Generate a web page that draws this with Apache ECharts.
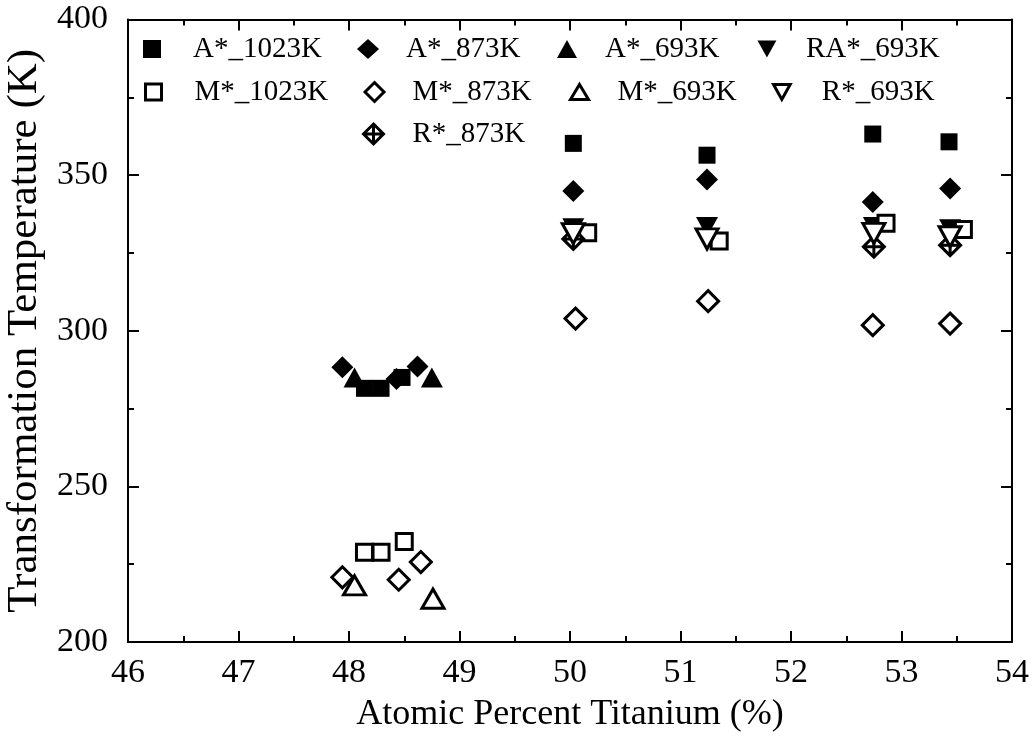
<!DOCTYPE html>
<html>
<head>
<meta charset="utf-8">
<script src="https://cdn.jsdelivr.net/npm/echarts@6/dist/echarts.min.js"></script>
<style>
  html, body { margin: 0; padding: 0; background: #fff; }
  #chart { width: 1032px; height: 748px; }
</style>
</head>
<body>
<div id="chart"></div>
<script>
// Transformation temperatures [at.% Ti, K]
const A_1023K  = [[48.14, 281.5], [48.29, 281.5], [48.48, 285.0], [50.03, 360.2], [51.24, 356.4], [52.74, 363.2], [53.43, 360.7]];
const A_873K   = [[47.94, 288.3], [48.43, 284.5], [48.62, 288.5], [50.03, 344.9], [51.24, 348.6], [52.74, 341.4], [53.44, 345.7]];
const A_693K   = [[48.05, 285.0], [48.75, 285.0]];
const RA_693K  = [[50.03, 332.9], [51.24, 333.3], [52.75, 333.3], [53.44, 332.6]];
const M_1023K  = [[48.14, 228.8], [48.29, 228.8], [48.50, 232.3], [50.16, 331.5], [51.35, 328.8], [52.86, 334.5], [53.56, 332.5]];
const M_873K   = [[47.94, 220.8], [48.45, 220.0], [48.65, 225.7], [50.05, 303.9], [51.25, 309.5], [52.74, 301.8], [53.44, 302.3]];
const M_693K   = [[48.05, 218.2], [48.76, 213.9]];
const R_873K   = [[50.03, 329.5], [52.75, 327.0], [53.44, 327.5]];
const R_693K   = [[50.03, 331.2], [51.24, 329.5], [52.75, 331.3], [53.44, 330.2]];

const xName = 'Atomic Percent Titanium (%)';
const yName = 'Transformation Temperature (K)';

const FONT = '"Liberation Serif", "Times New Roman", serif';
const INK = '#000';

const DOWN_TRI = 'path://M0,0 L20,0 L10,18 Z';
const CROSS_DIAMOND = 'path://M0,-10 L10,0 L0,10 L-10,0 Z M-10,0 L10,0 M0,-10 L0,10';

const filled = { color: INK, borderWidth: 0 };
const open = { color: '#fff', borderColor: INK, borderWidth: 3 };

// legend text box: line height plus bottom padding
const LEG_LINE = 32, LEG_PAD_B = 2;
const LEG_BOX = LEG_LINE + LEG_PAD_B;

// name, data, symbol, size, style, legend icon centre x/y, legend icon size, text start x
const seriesDefs = [
  ['A*_1023K', A_1023K, 'rect',        [17, 17], filled, 152, 49,  [18, 18], 193],
  ['A*_873K',  A_873K,  'diamond',     [22, 22], filled, 368, 49,  [22, 20], 406],
  ['A*_693K',  A_693K,  'triangle',    [22, 20], filled, 567, 49,  [20, 18], 605],
  ['RA*_693K', RA_693K, DOWN_TRI,      [22, 20], filled, 767, 49,  [19, 17], 806],
  ['M*_1023K', M_1023K, 'rect',        [16, 16], open,   152, 92,  [16, 16], 193],
  ['M*_873K',  M_873K,  'diamond',     [21, 21], open,   373, 92,  [19, 19], 411],
  ['M*_693K',  M_693K,  'triangle',    [22, 19], open,   578, 92,  [18, 15], 616],
  ['R*_873K',  R_873K,  CROSS_DIAMOND, [21, 21], open,   372, 134, [20, 20], 411],
  ['R*_693K',  R_693K,  DOWN_TRI,      [22, 20], open,   781, 92,  [18, 15], 821]
];

const series = seriesDefs.map(d => ({
  name: d[0],
  type: 'scatter',
  data: d[1],
  symbol: d[2],
  symbolSize: d[3],
  itemStyle: Object.assign({ opacity: 1 }, d[4]),
  emphasis: { disabled: true },
  animation: false
}));

const legends = seriesDefs.map(d => {
  const w = d[7][0], h = d[7][1];
  const left = d[5] - w / 2;
  return {
    data: [{ name: d[0], icon: d[2] }],
    left: left,
    top: d[6] - LEG_BOX / 2,
    padding: 0,
    itemWidth: w,
    itemHeight: h,
    selectedMode: false,
    itemStyle: Object.assign({}, d[4]),
    textStyle: {
      fontFamily: FONT,
      fontSize: 29,
      lineHeight: LEG_LINE,
      color: INK,
      padding: [0, 0, LEG_PAD_B, Math.max(0, d[8] - (left + w) - 5)]
    }
  };
});

const axisLine = { show: true, onZero: false, lineStyle: { color: INK, width: 2 } };
const axisTick = { show: true, inside: true, length: 11, lineStyle: { color: INK, width: 2 } };
const minorTick = { show: true, splitNumber: 2, length: 6, lineStyle: { color: INK, width: 2 } };
const tickLabel = { color: INK, fontFamily: FONT, fontSize: 34 };

const chart = echarts.init(document.getElementById('chart'), null, { renderer: 'canvas' });
chart.setOption({
  backgroundColor: '#fff',
  animation: false,
  grid: { left: 128, right: 20, top: 19.5, bottom: 106, containLabel: false, outerBoundsMode: 'none' },
  legend: legends,
  xAxis: [
    {
      type: 'value', min: 46, max: 54, interval: 1,
      name: xName, nameLocation: 'middle', nameGap: 55,
      nameTextStyle: { color: INK, fontFamily: FONT, fontSize: 36 },
      axisLine, axisTick, minorTick,
      axisLabel: Object.assign({ margin: 14 }, tickLabel),
      splitLine: { show: false }
    },
    {
      type: 'value', min: 46, max: 54, interval: 1, position: 'top',
      axisLine, axisTick, minorTick,
      axisLabel: { show: false },
      splitLine: { show: false }
    }
  ],
  yAxis: [
    {
      type: 'value', min: 200, max: 400, interval: 50,
      name: yName, nameLocation: 'middle', nameGap: 78,
      nameTextStyle: { color: INK, fontFamily: FONT, fontSize: 43 },
      axisLine, axisTick, minorTick,
      axisLabel: Object.assign({ margin: 20 }, tickLabel),
      splitLine: { show: false }
    },
    {
      type: 'value', min: 200, max: 400, interval: 50, position: 'right',
      axisLine, axisTick, minorTick,
      axisLabel: { show: false },
      splitLine: { show: false }
    }
  ],
  series: series
});
</script>
</body>
</html>
